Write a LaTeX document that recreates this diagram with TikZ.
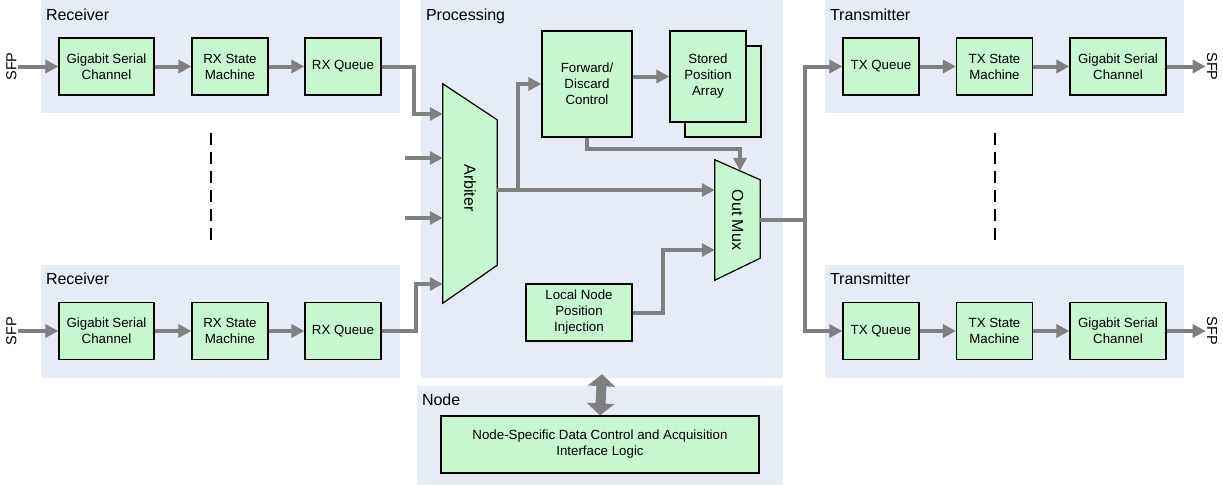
\documentclass[tikz,border=0pt]{standalone}
\usepackage{fontspec}
\setmainfont{Liberation Sans}
\usetikzlibrary{arrows.meta}
\definecolor{grpblue}{RGB}{230,236,246}
\definecolor{boxgreen}{RGB}{198,247,206}
\definecolor{arrgray}{RGB}{128,128,128}
\tikzset{
  grp/.style={fill=grpblue, inner sep=0pt},
  ttl/.style={anchor=base west, inner sep=0pt, font=\fontsize{16}{19}\selectfont},
  blk/.style={draw, line width=1.2pt, fill=boxgreen, align=center, inner sep=1pt, font=\fontsize{13.3}{16}\selectfont},
  arr/.style={draw=arrgray, line width=4pt, -{Triangle[length=13pt,width=13pt]}},
  dbl/.style={draw=arrgray, line width=10pt, {Triangle[length=12pt,width=27pt]}-{Triangle[length=12pt,width=27pt]}},
  sfp/.style={inner sep=1pt, font=\fontsize{14.5}{17}\selectfont},
  vlbl/.style={rotate=-90, inner sep=0pt, font=\fontsize{16}{19}\selectfont},
  gapline/.style={line width=2.5pt, dash pattern=on 12pt off 7pt}
}
\begin{document}
\begin{tikzpicture}[x=1pt,y=-1pt]
  \useasboundingbox (0,0) rectangle (1223,485);
  \node[grp, minimum width=359pt, minimum height=113pt] (rx1) at (220.5,56.5) {};
  \node[grp, minimum width=359pt, minimum height=113pt] (rx2) at (220.5,321.5) {};
  \node[grp, minimum width=362pt, minimum height=378pt] (proc) at (602,189) {};
  \node[grp, minimum width=366pt, minimum height=99pt] (ndg) at (600,435.5) {};
  \node[grp, minimum width=359pt, minimum height=113pt] (tx1) at (1004.5,56.5) {};
  \node[grp, minimum width=359pt, minimum height=113pt] (tx2) at (1004.5,321.5) {};
  \node[ttl] (rx1t) at ([shift={(5pt,-21pt)}]rx1.north west) {Receiver};
  \node[ttl] (rx2t) at ([shift={(5pt,-20pt)}]rx2.north west) {Receiver};
  \node[ttl] (proct) at ([shift={(5pt,-21pt)}]proc.north west) {Processing};
  \node[ttl] (ndgt) at ([shift={(5pt,-20pt)}]ndg.north west) {Node};
  \node[ttl] (tx1t) at ([shift={(5pt,-21pt)}]tx1.north west) {Transmitter};
  \node[ttl] (tx2t) at ([shift={(5pt,-20pt)}]tx2.north west) {Transmitter};

  \node[sfp, rotate=90] (sfpin1) at (11.5,66.5) {SFP};
  \node[sfp, rotate=90] (sfpin2) at (11.5,331) {SFP};
  \node[sfp, rotate=-90] (sfpout1) at (1212,66.5) {SFP};
  \node[sfp, rotate=-90] (sfpout2) at (1212,331) {SFP};

  \node[blk, minimum width=95pt, minimum height=57pt] (gsc1) at (106.5,66.5) {Gigabit Serial\\Channel};
  \node[blk, minimum width=76pt, minimum height=57pt] (rsm1) at (230,66.5) {RX State\\Machine};
  \node[blk, minimum width=76pt, minimum height=57pt] (rxq1) at (343,66.5) {RX Queue};
  \node[blk, minimum width=95pt, minimum height=57pt] (gsc2) at (106.5,331) {Gigabit Serial\\Channel};
  \node[blk, minimum width=76pt, minimum height=57pt] (rsm2) at (230,331) {RX State\\Machine};
  \node[blk, minimum width=76pt, minimum height=57pt] (rxq2) at (343,331) {RX Queue};
  \node[blk, minimum width=76pt, minimum height=57pt] (txq1) at (881,66.5) {TX Queue};
  \node[blk, minimum width=76pt, minimum height=57pt] (tsm1) at (994.5,66.5) {TX State\\Machine};
  \node[blk, minimum width=96pt, minimum height=57pt] (gst1) at (1118,66.5) {Gigabit Serial\\Channel};
  \node[blk, minimum width=76pt, minimum height=57pt] (txq2) at (881,331) {TX Queue};
  \node[blk, minimum width=76pt, minimum height=57pt] (tsm2) at (994.5,331) {TX State\\Machine};
  \node[blk, minimum width=96pt, minimum height=57pt] (gst2) at (1118,331) {Gigabit Serial\\Channel};

  \node[blk, minimum width=90pt, minimum height=106pt] (fd) at (587,84) {Forward/\\Discard\\Control};
  \node[blk, minimum width=76pt, minimum height=91pt] (spab) at (723,91.5) {};
  \node[blk, minimum width=76pt, minimum height=91pt] (spa) at (708,76.5) {Stored\\Position\\Array};
  \node[blk, minimum width=106pt, minimum height=57pt] (lnp) at (579,312.5) {Local Node\\Position\\Injection};
  \node[blk, minimum width=318pt, minimum height=57pt] (nl) at (600,444.5) {Node-Specific Data Control and Acquisition\\Interface Logic};

  \node[minimum width=54pt, minimum height=219pt, inner sep=0pt] (arb) at (470,193.5) {};
  \draw[blk] (arb.north west) -- ([yshift=-36pt]arb.north east) -- ([yshift=38pt]arb.south east) -- (arb.south west) -- cycle;
  \node[vlbl] (arbt) at ([yshift=5.5pt]arb.center) {Arbiter};
  \node[minimum width=45pt, minimum height=120pt, inner sep=0pt] (mux) at (737.5,220) {};
  \draw[blk] (mux.north west) -- ([yshift=-20pt]mux.north east) -- ([yshift=22pt]mux.south east) -- (mux.south west) -- cycle;
  \node[vlbl] (muxt) at (mux.center) {Out Mux};

  \draw[arr] (sfpin1.south) -- (gsc1.west);
  \draw[arr] (gsc1) -- (rsm1);
  \draw[arr] (rsm1) -- (rxq1);
  \draw[arr] (sfpin2.south) -- (gsc2.west);
  \draw[arr] (gsc2) -- (rsm2);
  \draw[arr] (rsm2) -- (rxq2);
  \draw[arr] (rxq1.east) -- ++(32,0) |- (arb.west |- 0,114);
  \draw[arr] (rxq2.east) -- ++(34,0) |- (arb.west |- 0,284);
  \coordinate (in2) at (405,158);
  \coordinate (in3) at (405,218);
  \draw[arr] (in2) -- (arb.west |- in2);
  \draw[arr] (in3) -- (arb.west |- in3);
  \coordinate (arbo) at (arb.east |- 0,190);
  \draw[arr] (arbo) -- (mux.west |- arbo);
  \draw[arr] (arbo) -- ++(21,0) |- (fd.west);
  \draw[arr] (fd.east |- spa.west) -- (spa.west);
  \draw[arr] (fd.south) -- ++(0,11) -| ([xshift=2.5pt,yshift=-11pt]mux.north);
  \draw[arr] (lnp.east) -- ++(30,0) |- (mux.west |- 0,250);
  \draw[arr] (mux.east) -- ++(45,0) |- (txq1.west);
  \draw[arr] (mux.east) -- ++(45,0) |- (txq2.west);
  \draw[arr] (txq1) -- (tsm1);
  \draw[arr] (tsm1) -- (gst1);
  \draw[arr] (gst1.east) -- (sfpout1.south);
  \draw[arr] (txq2) -- (tsm2);
  \draw[arr] (tsm2) -- (gst2);
  \draw[arr] (gst2.east) -- (sfpout2.south);
  \draw[dbl] ([yshift=4pt]proc.south) -- (nl.north);

  \draw[gapline] (211,133) -- (211,242);
  \draw[gapline] (995,133) -- (995,242);
\end{tikzpicture}
\end{document}
